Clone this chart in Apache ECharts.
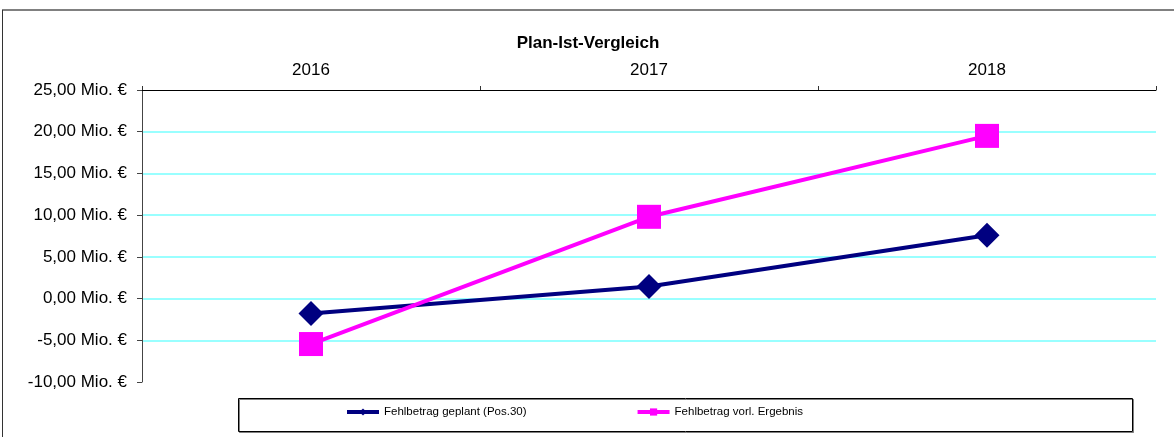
<!DOCTYPE html>
<html>
<head>
<meta charset="utf-8">
<script src="https://cdn.jsdelivr.net/npm/echarts@6/dist/echarts.min.js"></script>
<style>
    html, body { margin: 0; padding: 0; background: #fff; }
    #chart { width: 1174px; height: 437px; }
</style>
</head>
<body>
<div id="chart"></div>
<script>
// Daten (Mio. €)
var years = ['2016', '2017', '2018'];
var geplant = [-1.8, 1.45, 7.6];   // Fehlbetrag geplant (Pos.30)
var vorl = [-5.45, 9.8, 19.5];     // Fehlbetrag vorl. Ergebnis
var seriesNames = ['Fehlbetrag geplant (Pos.30)', 'Fehlbetrag vorl. Ergebnis'];

var chart = echarts.init(document.getElementById('chart'));

var cyan = '#99ffff';

chart.setOption({
    animation: false,
    textStyle: { fontFamily: 'Liberation Sans, Arial, sans-serif', color: '#000' },
    title: {
        text: 'Plan-Ist-Vergleich',
        left: 583,
        textAlign: 'center',
        top: 30,
        textStyle: { fontSize: 17, fontWeight: 'bold', color: '#000', fontFamily: 'Liberation Sans, Arial, sans-serif' }
    },
    grid: {
        left: 142,
        right: 18,
        top: 90,
        bottom: 55
    },
    xAxis: {
        type: 'category',
        position: 'top',
        data: years,
        boundaryGap: true,
        axisLine: { onZero: false, lineStyle: { color: '#000', width: 1 } },
        axisTick: { show: true, length: 4, lineStyle: { color: '#333' } },
        axisLabel: { fontSize: 17, color: '#000', margin: 11 },
        splitLine: { show: false }
    },
    yAxis: {
        type: 'value',
        min: -10,
        max: 25,
        interval: 5,
        axisLine: { show: true, lineStyle: { color: '#444' } },
        axisTick: { show: true, length: 5, lineStyle: { color: '#444' } },
        axisLabel: {
            fontSize: 17,
            color: '#000',
            margin: 15,
            formatter: function (v) {
                return v.toFixed(2).replace('.', ',') + ' Mio. €';
            }
        },
        splitLine: {
            show: true,
            showMinLine: false,
            showMaxLine: false,
            lineStyle: { color: cyan, width: 2 }
        }
    },
    legend: {
        left: 345,
        top: 406,
        padding: 0,
        itemGap: 109,
        itemWidth: 32,
        itemHeight: 9,
        itemTextGap: 4,
        lineStyle: { width: 4 },
        textStyle: { fontSize: 11.5, color: '#000' },
        data: seriesNames
    },
    graphic: [
        { type: 'line', shape: { x1: 2, y1: 10, x2: 1174, y2: 10 }, style: { stroke: '#808080', lineWidth: 2 } },
        { type: 'line', shape: { x1: 2.5, y1: 10, x2: 2.5, y2: 437 }, style: { stroke: '#333', lineWidth: 1 } },
        {
            type: 'rect',
            shape: { x: 238.5, y: 398.5, width: 894, height: 33 },
            style: { fill: 'none', stroke: '#000', lineWidth: 1, shadowColor: 'rgba(0,0,0,0.5)', shadowOffsetX: 1, shadowOffsetY: 1 },
            z: -1
        }
    ],
    series: [
        {
            name: seriesNames[0],
            type: 'line',
            data: geplant,
            symbol: 'diamond',
            symbolSize: 25,
            lineStyle: { color: '#000080', width: 4 },
            itemStyle: { color: '#000080' }
        },
        {
            name: seriesNames[1],
            type: 'line',
            data: vorl,
            symbol: 'rect',
            symbolSize: 24,
            lineStyle: { color: '#ff00ff', width: 4 },
            itemStyle: { color: '#ff00ff' }
        }
    ]
});
</script>
</body>
</html>
